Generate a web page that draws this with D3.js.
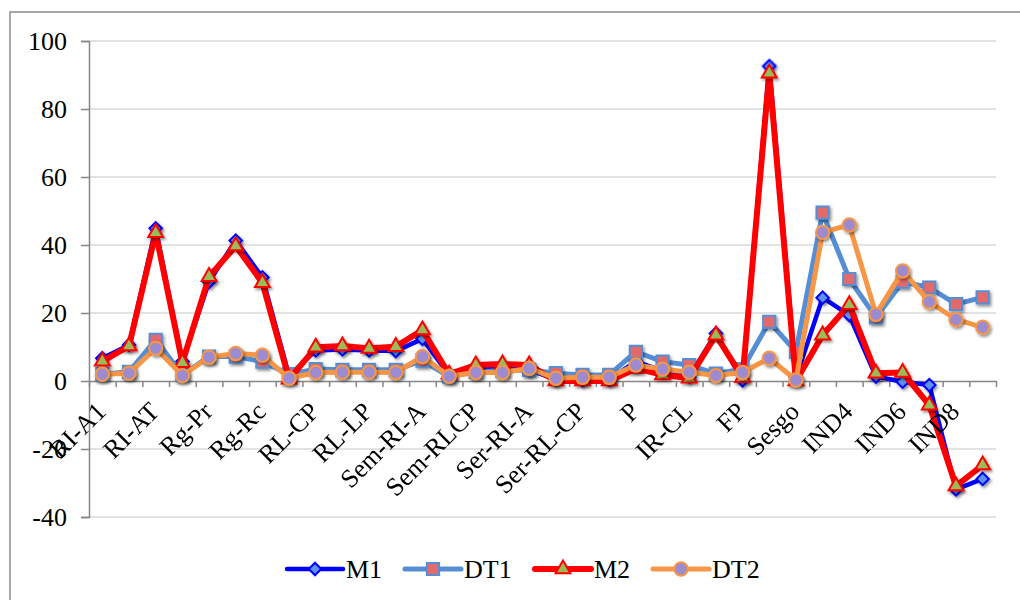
<!DOCTYPE html>
<html>
<head>
<meta charset="utf-8">
<script src="https://cdn.jsdelivr.net/npm/d3@7"></script>
<style>
  body { margin: 0; background: #fff; }
  svg { display: block; font-family: "Liberation Serif", "Times New Roman", serif; }
</style>
</head>
<body>
<script>
var width = 1020
var height = 600

// categories (only every other one is labelled on the axis)
var categories = ['RI-A1', 'RI-A2', 'RI-AT', 'Rg-Ai', 'Rg-Pr', 'Rg-Pc', 'Rg-Rc', 'RL-A',
  'RL-CP', 'RL-CL', 'RL-LP', 'RL-LL', 'Sem-RI-A', 'Sem-RI-CP', 'Sem-RLCP', 'Sem-RLLP',
  'Ser-RI-A', 'Ser-RI-CP', 'Ser-RL-CP', 'Ser-RL-LP', 'P', 'IR', 'IR-CL', 'IR-LP',
  'FP', 'FC', 'Sesgo', 'IND3', 'IND4', 'IND5', 'IND6', 'IND7', 'IND8', 'IND9']

var m1 = [6.7, 10.6, 44.9, 5.7, 29.2, 41.3, 30.5, 1.5, 9.0, 9.3, 9.0, 8.8, 12.4, 1.8, 3.7, 3.7,
  3.3, 0.5, 0.3, 0.4, 5.8, 3.0, 1.2, 14.0, 0.2, 92.6, 1.0, 24.5, 19.4, 1.3, -0.2, -1.2, -31.9, -28.8]
var dt1 = [2.0, 2.7, 12.1, 1.8, 7.2, 7.2, 5.7, 2.0, 3.5, 3.3, 3.3, 3.3, 6.0, 1.3, 2.7, 3.0,
  3.3, 2.3, 1.8, 1.8, 8.6, 5.7, 4.7, 2.2, 3.5, 17.4, 8.6, 49.5, 30.0, 18.7, 29.2, 27.5, 22.6, 24.6]
var m2 = [5.8, 10.3, 43.6, 5.4, 30.7, 39.7, 28.9, 0.5, 9.9, 10.3, 9.6, 10.1, 15.0, 2.0, 4.7, 5.0,
  4.7, 0.0, 0.0, 0.0, 3.7, 1.8, 0.8, 13.5, 1.0, 90.5, 0.0, 13.5, 22.4, 2.3, 2.5, -7.1, -30.9, -24.7]
var dt2 = [2.0, 2.3, 9.6, 1.6, 7.0, 8.1, 7.6, 0.8, 2.5, 2.6, 2.6, 2.5, 7.2, 1.4, 2.5, 2.5,
  3.7, 0.8, 1.1, 1.1, 4.7, 3.5, 2.6, 1.6, 2.5, 6.7, 0.3, 43.7, 45.9, 19.6, 32.4, 23.3, 18.1, 15.8]

var yTicks = [-40, -20, 0, 20, 40, 60, 80, 100]

var series = [
  { name: 'M1', values: m1, line: '#0000ff', lw: 4.5, shape: 'diamond', fill: '#5d92ea', stroke: '#0000ff' },
  { name: 'DT1', values: dt1, line: '#558ed5', lw: 5, shape: 'square', fill: '#e26b6b', stroke: '#558ed5' },
  { name: 'M2', values: m2, line: '#ff0000', lw: 6, shape: 'triangle', fill: '#9bbb59', stroke: '#ff0000' },
  { name: 'DT2', values: dt2, line: '#f79646', lw: 5, shape: 'circle', fill: '#9c8bd0', stroke: '#f79646' }
]

var plot = { left: 89, right: 996, top: 41, bottom: 517 }

var x = d3.scaleBand()
    .domain(categories)
    .range([plot.left, plot.right])

var xb = d3.scaleLinear()
    .domain([0, categories.length])
    .range([plot.left, plot.right])

var y = d3.scaleLinear()
    .domain([-40, 100])
    .range([plot.bottom, plot.top])

function cx (i) { return x(categories[i]) + x.bandwidth() / 2 }

var svg = d3.select('body').append('svg')
    .attr('width', width)
    .attr('height', height)

var defs = svg.append('defs')
var f = defs.append('filter').attr('id', 'shadow')
    .attr('x', '-50%').attr('y', '-50%').attr('width', '200%').attr('height', '200%')
f.append('feDropShadow')
    .attr('dx', 1.5).attr('dy', 2).attr('stdDeviation', 1.6)
    .attr('flood-color', '#000').attr('flood-opacity', 0.45)

// chart frame
svg.append('rect')
    .attr('x', 10).attr('y', 12)
    .attr('width', 1040).attr('height', 620)
    .attr('fill', 'none')
    .attr('stroke', '#8c8c8c')
    .attr('stroke-width', 1.5)

// gridlines
svg.append('g').selectAll('line')
    .data(yTicks.filter(function (d) { return d !== 0 }))
  .enter().append('line')
    .attr('x1', plot.left).attr('x2', plot.right)
    .attr('y1', function (d) { return y(d) }).attr('y2', function (d) { return y(d) })
    .attr('stroke', '#d9d9d9')
    .attr('stroke-width', 1.5)

// y axis
var yAxis = svg.append('g')
    .attr('transform', 'translate(' + plot.left + ',0)')
    .call(d3.axisLeft(y).tickValues(yTicks).tickSize(8).tickPadding(14).tickFormat(function (d) { return String(d) }))
yAxis.attr('font-family', null).attr('font-size', null)
yAxis.select('.domain').attr('stroke', '#868686').attr('stroke-width', 1.5)
yAxis.selectAll('.tick line').attr('stroke', '#868686').attr('stroke-width', 1.5)
yAxis.selectAll('text')
    .attr('fill', '#000')
    .style('font-size', '26px')

// x axis at zero
var xAxis = svg.append('g')
    .attr('transform', 'translate(0,' + y(0) + ')')
    .call(d3.axisBottom(xb).tickValues(d3.range(categories.length + 1)).tickSize(6).tickSizeOuter(0).tickFormat(''))
xAxis.select('.domain').attr('stroke', '#868686').attr('stroke-width', 1.5)
xAxis.selectAll('.tick line').attr('stroke', '#868686').attr('stroke-width', 1.5)

// series lines and markers
var line = d3.line()
    .x(function (d, i) { return cx(i) })
    .y(function (d) { return y(d) })

var symbols = {
  diamond: { type: d3.symbolSquare, size: 78, rotate: 45 },
  square: { type: d3.symbolSquare, size: 150, rotate: 0 },
  triangle: { type: d3.symbolTriangle, size: 95, rotate: 0 },
  circle: { type: d3.symbolCircle, size: 140, rotate: 0 }
}

series.forEach(function (s) {
  svg.append('path')
      .datum(s.values)
      .attr('d', line)
      .attr('fill', 'none')
      .attr('stroke', s.line)
      .attr('stroke-width', s.lw)
      .attr('stroke-linejoin', 'round')
      .attr('stroke-linecap', 'round')

  var sym = symbols[s.shape]
  svg.append('g').attr('filter', 'url(#shadow)').selectAll('path')
      .data(s.values)
    .enter().append('path')
      .attr('d', d3.symbol().type(sym.type).size(sym.size))
      .attr('transform', function (d, i) {
        return 'translate(' + cx(i) + ',' + y(d) + ') rotate(' + sym.rotate + ')'
      })
      .attr('fill', s.fill)
      .attr('stroke', s.stroke)
      .attr('stroke-width', 2)
})

// category labels, every other one, rotated
svg.append('g').selectAll('text')
    .data(categories.filter(function (d, i) { return i % 2 === 0 }))
  .enter().append('text')
    .attr('transform', function (d) {
      return 'translate(' + (x(d) + x.bandwidth() / 2 + 5) + ',413) rotate(-45)'
    })
    .attr('text-anchor', 'end')
    .style('font-size', '26px')
    .attr('fill', '#000')
    .text(function (d) { return d })

// legend
var legendX = [287, 405, 535, 653]
var legend = svg.append('g').selectAll('g')
    .data(series)
  .enter().append('g')
    .attr('transform', function (d, i) { return 'translate(' + legendX[i] + ',569)' })

legend.append('line')
    .attr('x1', 0).attr('x2', 56)
    .attr('stroke', function (d) { return d.line })
    .attr('stroke-width', function (d) { return d.lw })
    .attr('stroke-linecap', 'round')

legend.append('path')
    .attr('d', function (d) { return d3.symbol().type(symbols[d.shape].type).size(symbols[d.shape].size)() })
    .attr('transform', function (d) { return 'translate(28,0) rotate(' + symbols[d.shape].rotate + ')' })
    .attr('fill', function (d) { return d.fill })
    .attr('stroke', function (d) { return d.stroke })
    .attr('stroke-width', 2)

legend.append('text')
    .attr('x', 59)
    .attr('y', 9)
    .style('font-size', '26px')
    .attr('fill', '#000')
    .text(function (d) { return d.name })
</script>
</body>
</html>
